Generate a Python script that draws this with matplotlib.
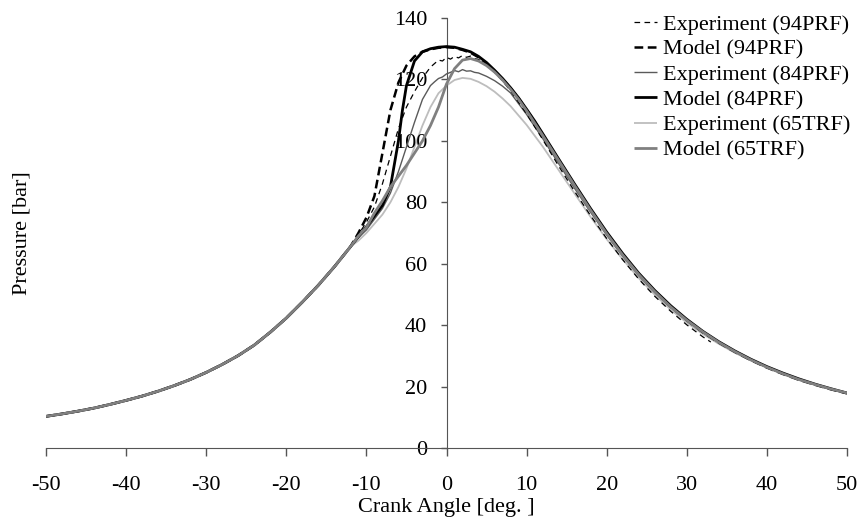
import matplotlib
matplotlib.use("Agg")
import matplotlib.pyplot as plt

# ---------------- data ----------------
# shared compression part (all traces coincide here)
comp_angle = [-50, -48, -46, -44, -42, -40, -38, -36, -34, -32, -30, -28, -26, -24, -22, -20, -18, -16, -14, -12]
comp_p     = [10.3, 11.1, 12.0, 13.0, 14.2, 15.5, 16.9, 18.5, 20.3, 22.3, 24.6, 27.2, 30.1, 33.5, 37.7, 42.3, 47.5, 53.0, 59.0, 65.5]

# Experiment (94PRF)
exp94_angle = [-11, -10, -9, -8, -7, -6, -5, -4, -3, -2, -1, -0.5, 0, 0.5, 1, 1.5, 2, 2.5, 3, 3.5, 4, 5, 6, 7, 8, 10, 12, 14, 16, 18, 20, 22, 24, 26, 28, 30, 32, 33]
exp94_p     = [69.5, 73.5, 78.5, 86, 95, 104, 111, 116, 120.5, 124, 126.3, 126.0, 127.2, 126.6, 127.5, 127.0, 127.8, 127.2, 127.6, 126.8, 126.5, 124.8, 122.3, 119.5, 116.3, 108.8, 100.5, 91.8, 83.5, 75.6, 68.2, 61.3, 55.0, 49.4, 44.5, 40.1, 36.2, 34.5]

# Model (94PRF)
mod94_angle = [-11, -10, -9, -8, -7, -6, -5, -4, -3, -2, -1, 0, 1, 2, 3, 4, 5, 6, 7, 8, 9, 10, 11, 12, 14, 16, 18, 20, 22, 24, 26, 28, 30, 32, 34, 36, 38, 40, 42, 44, 46, 48, 50]
mod94_p     = [70, 75, 82, 96, 110, 119, 124.5, 127.5, 129, 129.8, 130.3, 130.5, 130.3, 129.6, 128.7, 127.2, 125.2, 122.8, 120.1, 117.1, 113.8, 110.1, 106.3, 102.1, 93.8, 85.6, 77.6, 70.0, 63.0, 56.6, 51.0, 46.0, 41.6, 37.7, 34.3, 31.3, 28.6, 26.2, 24.1, 22.2, 20.6, 19.1, 17.8]

# Experiment (84PRF)
exp84_angle = [-11, -10, -9, -8, -7, -6, -5, -4, -3, -2, -1.5, -1, -0.5, 0, 0.5, 1, 1.5, 2, 2.5, 3, 3.5, 4, 5, 6, 7, 8, 10, 12, 14, 16, 18, 20, 22, 24, 26, 28, 30, 32, 34, 36, 38, 40, 42, 44, 46, 48, 50]
exp84_p     = [68.5, 71, 74.5, 78, 83, 90, 98, 106, 113.5, 118, 119.2, 120.3, 120.8, 121.8, 122.3, 122.9, 122.5, 123.2, 122.7, 122.8, 122.3, 122.1, 121.0, 119.6, 117.8, 115.6, 108.6, 100.8, 92.6, 84.5, 76.7, 69.3, 62.4, 56.1, 50.6, 45.7, 41.4, 37.6, 34.3, 31.3, 28.6, 26.2, 24.1, 22.2, 20.6, 19.1, 17.8]

# Model (84PRF)
mod84_angle = [-11, -10, -9, -8, -7, -6, -5.5, -5, -4, -3, -2, -1, 0, 1, 2, 3, 4, 5, 6, 7, 8, 9, 10, 11, 12, 14, 16, 18, 20, 22, 24, 26, 28, 30, 32, 34, 36, 38, 40, 42, 44, 46, 48, 50]
mod84_p     = [68.8, 72, 75.5, 79, 85, 100, 110, 118, 126, 129, 130, 130.5, 130.7, 130.5, 129.8, 129.0, 127.5, 125.5, 123.0, 120.3, 117.3, 114.0, 110.3, 106.5, 102.4, 94.1, 85.9, 77.9, 70.3, 63.3, 56.9, 51.3, 46.3, 41.9, 38.0, 34.6, 31.6, 28.9, 26.5, 24.4, 22.5, 20.8, 19.3, 17.9]

# Experiment (65TRF)
exp65_angle = [-11, -10, -9, -8, -7, -6, -5, -4, -3, -2, -1, 0, 1, 2, 3, 4, 5, 6, 7, 8, 10, 12, 14, 16, 18, 20, 22, 24, 26, 28, 30, 32, 34, 36, 38, 40, 42, 44, 46, 48, 50]
exp65_p     = [67.5, 70, 73, 76, 80, 85, 91, 98, 105, 111, 115.5, 118, 119.8, 120.5, 120.2, 119.2, 117.8, 116, 113.8, 111.3, 105.2, 98.2, 90.5, 82.8, 75.2, 68.0, 61.4, 55.3, 49.9, 45.0, 40.8, 37.1, 33.9, 31.0, 28.5, 26.2, 24.1, 22.2, 20.6, 19.1, 17.8]

# Model (65TRF)
mod65_angle = [-11, -10, -9, -8, -7, -6, -5, -4, -3, -2, -1, 0, 1, 2, 3, 4, 5, 6, 7, 8, 9, 10, 12, 14, 16, 18, 20, 22, 24, 26, 28, 30, 32, 34, 36, 38, 40, 42, 44, 46, 48, 50]
mod65_p     = [69, 71.8, 76.5, 80.5, 85, 88.5, 92, 96, 100, 105, 111, 118.5, 123.5, 126.3, 126.8, 126.0, 124.5, 122.4, 119.8, 116.8, 113.5, 109.8, 101.8, 93.6, 85.4, 77.4, 69.8, 62.8, 56.5, 50.9, 45.9, 41.6, 37.8, 34.4, 31.4, 28.7, 26.3, 24.2, 22.3, 20.7, 19.2, 17.9]

labels = ["Experiment (94PRF)", "Model (94PRF)", "Experiment (84PRF)",
          "Model (84PRF)", "Experiment (65TRF)", "Model (65TRF)"]
x_ticks = [-50, -40, -30, -20, -10, 0, 10, 20, 30, 40, 50]
y_ticks = [0, 20, 40, 60, 80, 100, 120, 140]

# ---------------- plotting ----------------
plt.rcParams['font.family'] = ['Liberation Serif', 'DejaVu Serif']
plt.rcParams['font.size'] = 16

fig = plt.figure(figsize=(8.62, 5.24), dpi=100)
ax = fig.add_axes([46 / 862, 1 - 448 / 524, (847 - 46) / 862, (448 - 18) / 524])

def full(a, p):
    return comp_angle + a, comp_p + p

series = [
    (exp94_angle, exp94_p, dict(color='black', lw=0.9, dashes=(4.5, 3.5)), 3),
    (mod94_angle, mod94_p, dict(color='black', lw=1.8, dashes=(3.5, 1.8)), 4),
    (exp84_angle, exp84_p, dict(color='#5a5a5a', lw=1.0), 2),
    (mod84_angle, mod84_p, dict(color='black', lw=2.0), 5),
    (exp65_angle, exp65_p, dict(color='#bdbdbd', lw=1.3), 1),
    (mod65_angle, mod65_p, dict(color='#808080', lw=2.0), 6),
]
handles = []
for (a, p, st, z), lab in zip(series, labels):
    xa, pa = full(a, p)
    h, = ax.plot(xa, pa, label=lab, zorder=z, solid_capstyle='butt', **st)
    handles.append(h)

ax.set_xlim(-50, 50)
ax.set_ylim(0, 140)
ax.set_xticks(x_ticks)
ax.set_yticks(y_ticks)
ax.set_xticklabels([str(v) for v in x_ticks])
ax.set_yticklabels([str(v) for v in y_ticks])

for s in ['top', 'right']:
    ax.spines[s].set_visible(False)
ax.spines['left'].set_position(('data', 0))
ax.spines['left'].set_color('#555555')
ax.spines['bottom'].set_color('#555555')
ax.tick_params(axis='x', direction='out', length=6, width=1, color='#555555', pad=14.5)
ax.tick_params(axis='y', direction='out', length=4, width=1, color='#555555', pad=10)

ax.set_xlabel("Crank Angle [deg. ]", labelpad=1.5)
fig.text(22 / 862, 1 - 233 / 524, "Pressure [bar]", rotation=90, ha='center', va='center', fontsize=16)

leg = ax.legend(handles=handles, loc='upper right', bbox_to_anchor=(850 / 862, 1 - 14 / 524),
                bbox_transform=fig.transFigure, frameon=False, handlelength=1.05,
                handletextpad=0.25, labelspacing=0.21, borderpad=0, borderaxespad=0)

fig.savefig("out.png", dpi=100)
